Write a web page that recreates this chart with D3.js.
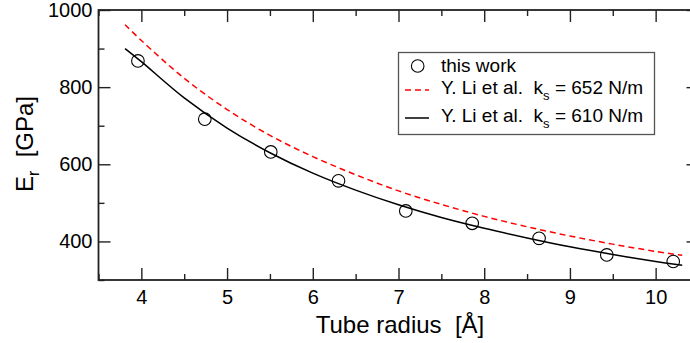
<!DOCTYPE html>
<html>
<head>
<meta charset="utf-8">
<script src="https://cdn.jsdelivr.net/npm/d3@7"></script>
<style>
  html, body { margin: 0; padding: 0; background: #fff; }
  svg { display: block; font-family: "Liberation Sans", Arial, sans-serif; }
</style>
</head>
<body>
<svg id="chart" width="690" height="343"></svg>
<script>
// ---- data ----
const radiusThisWork = [3.96, 4.74, 5.51, 6.30, 7.085, 7.86, 8.64, 9.43, 10.205];
const modulusThisWork = [868, 717, 632, 557, 479, 447, 408, 365, 348];

const radiusLi = [3.81, 4.0, 4.5, 5.0, 5.5, 6.0, 6.5, 7.0, 7.5, 8.0, 8.5, 9.0, 9.5, 10.0, 10.31];
const modulusLi652 = [962, 921, 823, 742, 675, 620, 573, 531, 496, 465, 438, 414, 393, 374, 364];
const modulusLi610 = [900, 866, 772, 694, 630, 577, 533, 495, 462, 434, 409, 386, 366, 348, 338];

const xMajorTicks = [4, 5, 6, 7, 8, 9, 10];
const xMinorTicks = [3.5, 4.5, 5.5, 6.5, 7.5, 8.5, 9.5, 10.5];
const yMajorTicks = [400, 600, 800, 1000];
const yMinorTicks = [300, 500, 700, 900];

const legendLabels = ["this work", "Y. Li et al.", "Y. Li et al."];
const legendKs = ["", "652 N/m", "610 N/m"];

const xTitle = "Tube radius  [Å]";
const yTitleMain = "E";
const yTitleSub = "r";
const yTitleUnit = "  [GPa]";

// ---- layout ----
const svg = d3.select("#chart");
const pLeft = 98.5, pRight = 698.5, pTop = 10, pBottom = 280;

const x = d3.scaleLinear().domain([3.5, 10.5]).range([pLeft, pRight]);
const y = d3.scaleLinear().domain([300, 1000]).range([pBottom, pTop]);

const axisColor = "#222";

function styleAxis(g) {
  g.select(".domain").remove();
  g.selectAll(".tick line").attr("stroke", axisColor).attr("stroke-width", 1.4);
  g.selectAll(".tick text").attr("fill", "#000").attr("font-size", 20)
    .attr("font-family", "'Liberation Sans', Arial, sans-serif");
}

// bottom
svg.append("g").attr("transform", `translate(0,${pBottom})`)
  .call(d3.axisBottom(x).tickValues(xMajorTicks).tickSize(-12).tickPadding(10).tickFormat(d3.format("d")))
  .call(styleAxis);
svg.append("g").attr("transform", `translate(0,${pBottom})`)
  .call(d3.axisBottom(x).tickValues(xMinorTicks).tickSize(-6).tickFormat(""))
  .call(styleAxis);
// top
svg.append("g").attr("transform", `translate(0,${pTop})`)
  .call(d3.axisTop(x).tickValues(xMajorTicks).tickSize(-12).tickFormat(""))
  .call(styleAxis);
svg.append("g").attr("transform", `translate(0,${pTop})`)
  .call(d3.axisTop(x).tickValues(xMinorTicks).tickSize(-6).tickFormat(""))
  .call(styleAxis);
// left
svg.append("g").attr("transform", `translate(${pLeft},0)`)
  .call(d3.axisLeft(y).tickValues(yMajorTicks).tickSize(-12).tickPadding(6).tickFormat(d3.format("d")))
  .call(styleAxis);
svg.append("g").attr("transform", `translate(${pLeft},0)`)
  .call(d3.axisLeft(y).tickValues(yMinorTicks).tickSize(-6).tickFormat(""))
  .call(styleAxis);
// right
svg.append("g").attr("transform", `translate(${pRight},0)`)
  .call(d3.axisRight(y).tickValues(yMajorTicks).tickSize(-12).tickFormat(""))
  .call(styleAxis);
svg.append("g").attr("transform", `translate(${pRight},0)`)
  .call(d3.axisRight(y).tickValues(yMinorTicks).tickSize(-6).tickFormat(""))
  .call(styleAxis);

// frame
svg.append("rect")
  .attr("x", pLeft).attr("y", pTop).attr("width", pRight - pLeft).attr("height", pBottom - pTop)
  .attr("fill", "none").attr("stroke", axisColor).attr("stroke-width", 1.8);

// curves
const line = d3.line().x(d => x(d[0])).y(d => y(d[1])).curve(d3.curveCatmullRom);
svg.append("path")
  .datum(d3.zip(radiusLi, modulusLi652))
  .attr("d", line).attr("fill", "none").attr("stroke", "#ff0000")
  .attr("stroke-width", 1.5).attr("stroke-dasharray", "6,4");
svg.append("path")
  .datum(d3.zip(radiusLi, modulusLi610))
  .attr("d", line).attr("fill", "none").attr("stroke", "#000")
  .attr("stroke-width", 1.5);

// points
svg.append("g").selectAll("circle")
  .data(d3.zip(radiusThisWork, modulusThisWork))
  .join("circle")
  .attr("cx", d => x(d[0])).attr("cy", d => y(d[1])).attr("r", 6.3)
  .attr("fill", "none").attr("stroke", "#000").attr("stroke-width", 1.1);

// legend
const lg = svg.append("g");
lg.append("rect").attr("x", 398.5).attr("y", 52.5).attr("width", 256).attr("height", 82)
  .attr("fill", "#fff").attr("stroke", "#555").attr("stroke-width", 1.3);
const rowsY = [66, 90, 118];
lg.append("circle").attr("cx", 417.7).attr("cy", rowsY[0]).attr("r", 6.3)
  .attr("fill", "none").attr("stroke", "#000").attr("stroke-width", 1.1);
lg.append("line").attr("x1", 405).attr("x2", 429).attr("y1", rowsY[1]).attr("y2", rowsY[1])
  .attr("stroke", "#ff0000").attr("stroke-width", 1.5).attr("stroke-dasharray", "6,4");
lg.append("line").attr("x1", 405).attr("x2", 429).attr("y1", rowsY[2]).attr("y2", rowsY[2])
  .attr("stroke", "#000").attr("stroke-width", 1.5);

const baselines = [72, 94, 121.5];
legendLabels.forEach((lab, i) => {
  const t = lg.append("text").attr("x", 441).attr("y", baselines[i])
    .attr("font-size", 19).attr("fill", "#000").style("white-space", "pre");
  if (i === 0) {
    t.text(lab);
  } else {
    t.append("tspan").text(lab + "  k");
    t.append("tspan").attr("font-size", 13).attr("dy", 6).text("s");
    t.append("tspan").attr("dy", -6).text(" = " + legendKs[i]);
  }
});

// axis titles
svg.append("text").attr("x", 400).attr("y", 333).attr("text-anchor", "middle")
  .attr("font-size", 24).attr("fill", "#000").style("white-space", "pre").text(xTitle);

const yt = svg.append("text").attr("transform", "translate(33,144) rotate(-90)")
  .attr("text-anchor", "middle").attr("font-size", 24).attr("fill", "#000").style("white-space", "pre");
yt.append("tspan").text(yTitleMain);
yt.append("tspan").attr("font-size", 16).attr("dy", 6).text(yTitleSub);
yt.append("tspan").attr("dy", -6).text(yTitleUnit);
</script>
</body>
</html>
